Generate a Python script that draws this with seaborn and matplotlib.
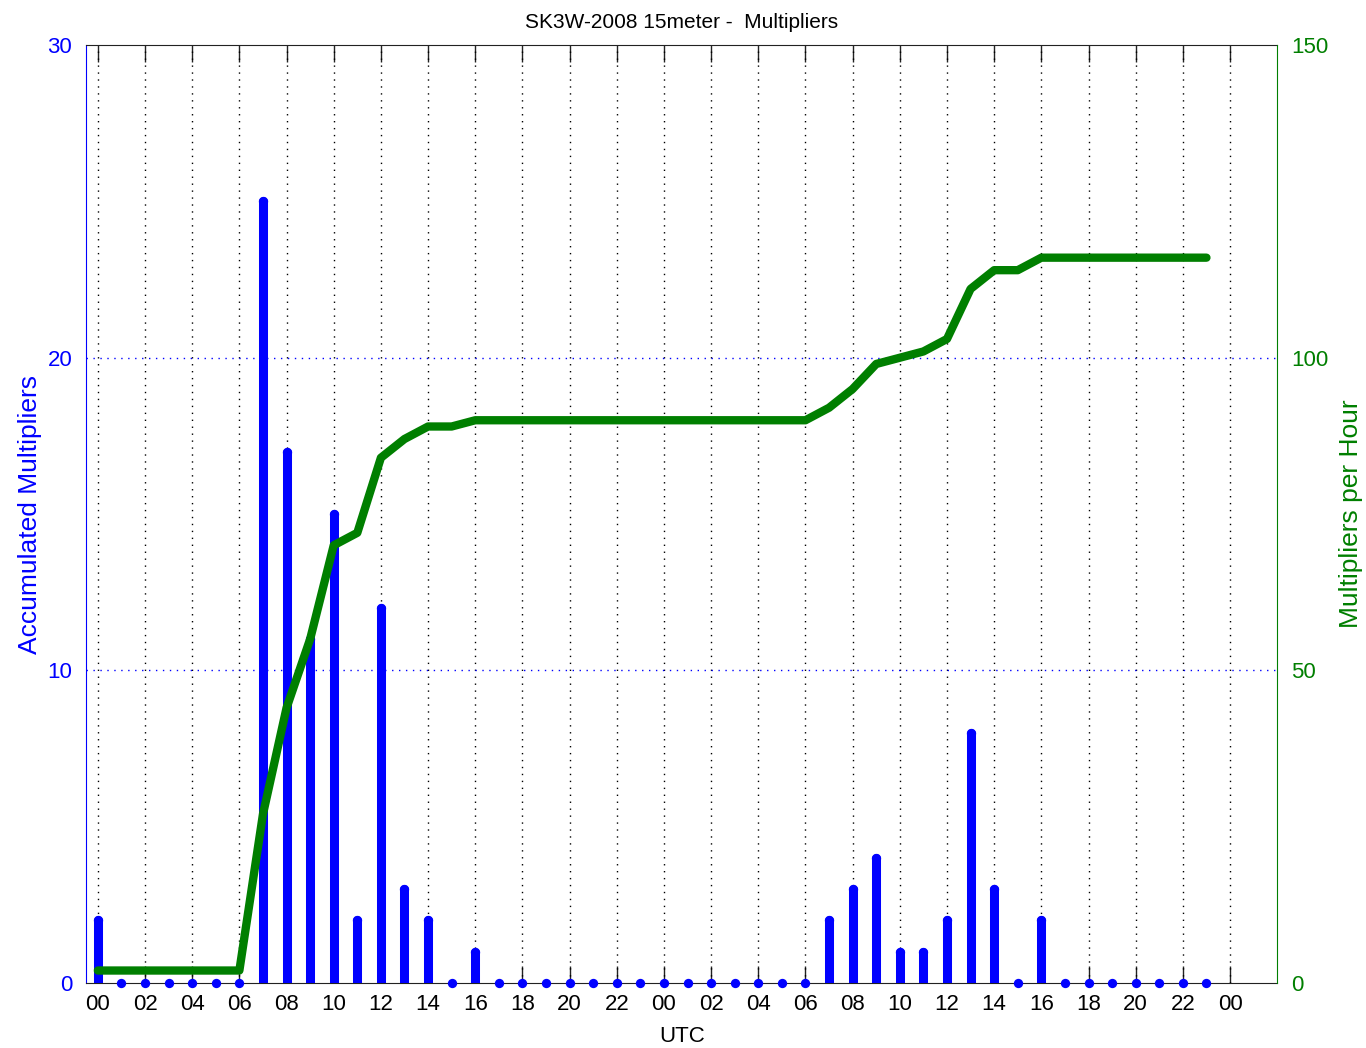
import numpy as np
import pandas as pd
import matplotlib
matplotlib.use("Agg")
import matplotlib.pyplot as plt
import seaborn as sns

# hour index over the two contest days (0..47)
hours = list(range(48))
mults_per_hour = [2, 0, 0, 0, 0, 0, 0, 25, 17, 11, 15, 2, 12, 3, 2, 0,
                  1, 0, 0, 0, 0, 0, 0, 0, 0, 0, 0, 0, 0, 0, 0, 2,
                  3, 4, 1, 1, 2, 8, 3, 0, 2, 0, 0, 0, 0, 0, 0, 0]
mults_accum = [2, 2, 2, 2, 2, 2, 2, 27, 44, 55, 70, 72, 84, 87, 89, 89,
               90, 90, 90, 90, 90, 90, 90, 90, 90, 90, 90, 90, 90, 90, 90, 92,
               95, 99, 100, 101, 103, 111, 114, 114, 116, 116, 116, 116, 116, 116, 116, 116]
xtick_pos = list(range(0, 49, 2))
xtick_labels = ['%02d' % (h % 24) for h in xtick_pos]

BLUE = '#0000ff'
GREEN = '#007f00'

df = pd.DataFrame({'hour': hours, 'per_hour': mults_per_hour, 'accum': mults_accum})

sns.set_style("white")
plt.rcParams['font.family'] = ['Liberation Sans', 'DejaVu Sans']

fig = plt.figure(figsize=(13.66, 10.48), dpi=100)
ax = fig.add_axes([0.063, 0.062, 0.872, 0.895])

# stems + dots
ax.vlines(df.hour, 0, df.per_hour, colors=BLUE, linewidth=6.5, capstyle='round', zorder=3)
sns.scatterplot(data=df, x='hour', y='per_hour', color=BLUE, s=45, edgecolor=BLUE,
                linewidth=0, ax=ax, zorder=4, clip_on=False)

ax.set_xlim(-0.5, 50)
ax.set_ylim(0, 30)
ax.set_xticks(xtick_pos)
ax.set_xticklabels(xtick_labels)
ax.set_yticks([0, 10, 20, 30])
ax.tick_params(axis='x', direction='in', length=12, width=1, labelsize=16, pad=8,
               top=True, bottom=True, color='#222222', labelcolor='black')
ax.tick_params(axis='y', direction='in', length=0, labelsize=16, labelcolor=BLUE, pad=10)
for x in xtick_pos:
    ax.axvline(x, color='black', linestyle=(0, (1, 4)), linewidth=1, zorder=1)
for y in [10, 20]:
    ax.axhline(y, color=BLUE, linestyle=(0, (1, 4)), linewidth=1, zorder=1)
ax.set_xlabel('UTC', fontsize=16, labelpad=8, color='black')
ax.set_ylabel('Accumulated Multipliers', fontsize=19, color=BLUE, labelpad=4)
ax.set_title('SK3W-2008 15meter -  Multipliers', fontsize=15, pad=12, color='black')
for s in ['top', 'bottom']:
    ax.spines[s].set_color('#222222')
ax.spines['left'].set_color(BLUE)
ax.spines['right'].set_visible(False)

ax2 = ax.twinx()
sns.lineplot(data=df, x='hour', y='accum', color=GREEN, linewidth=6, ax=ax2, zorder=5)
ax2.set_ylim(0, 150)
ax2.set_yticks([0, 50, 100, 150])
ax2.tick_params(axis='y', direction='in', length=0, labelsize=16, labelcolor=GREEN, pad=10)
ax2.set_ylabel('Multipliers per Hour', fontsize=19, color=GREEN, labelpad=8)
ax2.spines['right'].set_color(GREEN)
ax2.spines['left'].set_visible(False)
ax2.spines['top'].set_visible(False)
ax2.spines['bottom'].set_visible(False)

fig.savefig('out.png', dpi=100)
